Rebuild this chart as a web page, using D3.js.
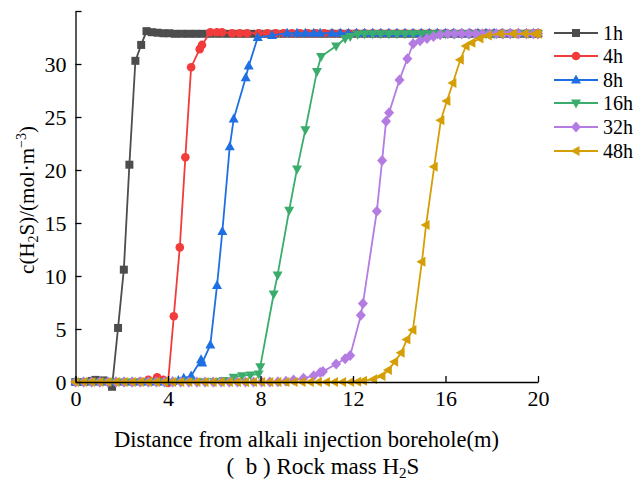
<!DOCTYPE html>
<html><head><meta charset="utf-8">
<script src="https://cdn.jsdelivr.net/npm/d3@7"></script>
<style>body{margin:0;background:#fff}svg{display:block;font-family:"Liberation Serif","Times New Roman",serif}</style>
</head><body><svg id="c" width="633" height="480"></svg>
<script>
const seriesNames = ["1h","4h","8h","16h","32h","48h"];
const seriesColors = ["#4d4d4d","#f23b3b","#1f6fe4","#3aad6c","#b47ce2","#d49e04"];
const seriesShapes = ["square","circle","triangleUp","triangleDown","diamond","triangleLeft"];

const x1h = [0,0.35,0.7,0.86,1.2,1.58,1.84,2.09,2.33,2.59,2.84,3.07,3.3,3.55,3.8,4.05,4.3,4.6,4.9,5.2,5.5,5.85,6.2,6.55,6.9,7.25,7.6,7.95,8.3,8.65,9.0,9.35,9.7,10.05,10.4,10.75,11.1,11.45,11.8,12.15,12.5,12.85,13.2,13.55,13.9,14.25,14.6,14.95,15.3,15.65,16.0,16.35,16.7,17.05,17.4,17.75,18.1,18.45,18.8,19.15,19.5,19.8,20];
const y1h = [0,0,0.1,0.2,0.15,-0.45,5.1,10.6,20.5,30.3,31.8,33.1,33.0,32.95,32.9,32.9,32.85,32.85,32.85,32.85,32.85,32.85,32.85,32.85,32.85,32.85,32.85,32.85,32.85,32.85,32.85,32.85,32.85,32.85,32.85,32.85,32.85,32.85,32.85,32.85,32.85,32.85,32.85,32.85,32.85,32.85,32.85,32.85,32.85,32.85,32.85,32.85,32.85,32.85,32.85,32.85,32.85,32.85,32.85,32.85,32.85,32.85,32.85];

const x4h = [0,0.35,0.7,1.05,1.4,1.75,2.1,2.45,2.8,3.15,3.53,3.8,4.0,4.25,4.51,4.75,5.0,5.37,5.47,5.83,6.12,6.34,6.77,7.1,7.42,7.92,8.3,8.65,9.0,9.35,9.7,10.05,10.4,10.75,11.1,11.45,11.8,12.15,12.5,12.85,13.2,13.55,13.9,14.25,14.6,14.95,15.3,15.65,16.0,16.35,16.7,17.05,17.4,17.75,18.1,18.45,18.8,19.15,19.5,19.8,20];
const y4h = [0,0,0,0,0,0,0,0,0.05,0.2,0.45,0.2,-0.1,6.2,12.7,21.2,29.7,31.4,31.8,33.0,33.0,33.0,32.9,32.9,32.9,32.9,32.9,32.9,32.9,32.9,32.9,32.9,32.9,32.9,32.9,32.9,32.9,32.9,32.9,32.9,32.9,32.9,32.9,32.9,32.9,32.9,32.9,32.9,32.9,32.9,32.9,32.9,32.9,32.9,32.9,32.9,32.9,32.9,32.9,32.9,32.9];

const x8h = [0,0.35,0.7,1.05,1.4,1.75,2.1,2.45,2.8,3.15,3.5,3.85,4.2,4.45,4.68,5.0,5.43,5.48,5.83,6.12,6.35,6.67,6.84,7.36,7.49,7.88,8.5,9.15,9.58,9.94,10.3,10.58,11.09,11.45,11.8,12.15,12.5,12.85,13.2,13.55,13.9,14.25,14.6,14.95,15.3,15.65,16.0,16.35,16.7,17.05,17.4,17.75,18.1,18.45,18.8,19.15,19.5,19.8,20];
const y8h = [0,0,0,0,0,0,0,0,0,0,0,0,0.05,0.15,0.35,0.57,2.1,1.8,3.5,9.1,14.2,22.2,24.8,28.7,29.8,32.5,32.7,32.9,32.9,32.9,32.9,32.9,32.9,32.9,32.9,32.9,32.9,32.9,32.9,32.9,32.9,32.9,32.9,32.9,32.9,32.9,32.9,32.9,32.9,32.9,32.9,32.9,32.9,32.9,32.9,32.9,32.9,32.9,32.9];

const x16h = [0,0.35,0.7,1.05,1.4,1.75,2.1,2.45,2.8,3.15,3.5,3.85,4.2,4.55,4.9,5.25,5.6,6.0,6.4,6.84,7.2,7.56,7.92,7.99,8.57,8.74,9.24,9.58,9.94,10.44,10.62,11.27,11.66,11.88,12.2,12.5,12.85,13.2,13.55,13.9,14.25,14.6,14.95,15.3,15.65,16.0,16.35,16.7,17.05,17.4,17.75,18.1,18.45,18.8,19.15,19.5,19.8,20];
const y16h = [0,0,0,0,0,0,0,0,0,0,0,0,0,0,0,0,0.02,0.05,0.15,0.45,0.6,0.66,0.75,1.45,8.3,10.1,16.2,20.1,23.8,29.3,30.7,31.7,32.4,32.6,32.8,32.85,32.85,32.85,32.85,32.85,32.85,32.85,32.85,32.85,32.85,32.85,32.85,32.85,32.85,32.85,32.85,32.85,32.85,32.85,32.85,32.85,32.85,32.85];

const x32h = [0,0.35,0.7,1.05,1.4,1.75,2.1,2.45,2.8,3.15,3.5,3.85,4.2,4.55,4.9,5.25,5.6,5.95,6.3,6.65,7.0,7.35,7.7,8.05,8.4,8.75,9.1,9.43,9.86,10.3,10.58,10.7,11.27,11.66,11.88,12.34,12.43,13.03,13.26,13.43,13.56,14.01,14.35,14.6,14.9,15.2,15.48,15.77,16.1,16.4,16.7,17.0,17.3,17.6,17.9,18.2,18.5,18.8,19.15,19.5,19.8,20];
const y32h = [0,0,0,0,0,0,0,0,0,0,0,0,0,0,0,0,0,0,0,0,0,0,0,0,0,0.02,0.08,0.2,0.35,0.6,0.9,0.98,1.7,2.2,2.5,6.3,7.4,16.1,20.9,24.6,25.4,28.5,30.5,31.9,32.2,32.4,32.6,32.75,32.85,32.85,32.85,32.85,32.85,32.85,32.85,32.85,32.85,32.85,32.85,32.85,32.85,32.85];

const x48h = [0,0.35,0.7,1.05,1.4,1.75,2.1,2.45,2.8,3.15,3.5,3.85,4.2,4.55,4.9,5.25,5.6,5.95,6.3,6.65,7.0,7.35,7.7,8.05,8.4,8.75,9.1,9.45,9.8,10.15,10.5,10.85,11.2,11.55,11.9,12.2,12.45,12.89,13.25,13.53,13.8,14.08,14.33,14.59,14.98,15.16,15.51,15.8,16.06,16.32,16.64,16.89,17.14,17.49,17.85,18.36,18.93,19.44,19.87,20];
const y48h = [0,0,0,0,0,0,0,0,0,0,0,0,0,0,0,0,0,0,0,0,0,0,0,0,0,0,0,0,0,0,0,0,0,0,0,0.02,0.12,0.25,0.57,1.13,1.9,2.76,4.0,4.9,11.35,14.8,20.3,24.7,26.5,28.2,30.4,31.7,32.0,32.4,32.7,32.85,32.85,32.85,32.85,32.85];

const seriesX = [x1h,x4h,x8h,x16h,x32h,x48h];
const seriesY = [y1h,y4h,y8h,y16h,y32h,y48h];

const xTicks = [0,4,8,12,16,20];
const yTicks = [0,5,10,15,20,25,30,35];
const yTickLabels = ["0","5","10","15","20","25","30",""];

const svg = d3.select("#c");
const L = 75.5, R = 538, T = 11, B = 382;
const x = d3.scaleLinear().domain([0,20]).range([L,R]);
const y = d3.scaleLinear().domain([0,35]).range([B,T]);

function markerPath(shape){
  const p = d3.path();
  if(shape==="square"){ const s=4; p.rect(-s,-s,2*s,2*s); }
  else if(shape==="circle"){ p.arc(0,0,4.3,0,2*Math.PI); }
  else if(shape==="triangleUp"){ p.moveTo(0,-5.5); p.lineTo(5,3.5); p.lineTo(-5,3.5); p.closePath(); }
  else if(shape==="triangleDown"){ p.moveTo(0,5.5); p.lineTo(5,-3.5); p.lineTo(-5,-3.5); p.closePath(); }
  else if(shape==="diamond"){ p.moveTo(0,-5.5); p.lineTo(5,0); p.lineTo(0,5.5); p.lineTo(-5,0); p.closePath(); }
  else if(shape==="triangleLeft"){ p.moveTo(-5.5,0); p.lineTo(3.5,-5); p.lineTo(3.5,5); p.closePath(); }
  return p.toString();
}

const line = d3.line().x(d=>x(d[0])).y(d=>y(d[1]));
seriesNames.forEach((name,i)=>{
  const pts = seriesX[i].map((v,j)=>[v,seriesY[i][j]]);
  const g = svg.append("g");
  g.append("path").attr("d",line(pts)).attr("fill","none")
   .attr("stroke",seriesColors[i]).attr("stroke-width",1.8);
  g.selectAll("path.m").data(pts).enter().append("path").attr("class","m")
   .attr("d",markerPath(seriesShapes[i]))
   .attr("transform",d=>`translate(${x(d[0])},${y(d[1])})`)
   .attr("fill",seriesColors[i]);
});

// axes
const ax = svg.append("g").attr("transform",`translate(0,${B})`)
  .call(d3.axisBottom(x).tickValues(xTicks).tickSizeInner(-6).tickSizeOuter(0).tickPadding(8));
const ay = svg.append("g").attr("transform",`translate(${L},0)`)
  .call(d3.axisLeft(y).tickValues(yTicks).tickFormat((d,i)=>yTickLabels[i]).tickSizeInner(-6).tickSizeOuter(0).tickPadding(9));
[ax,ay].forEach(a=>{
  a.selectAll("path.domain").attr("stroke","#000").attr("stroke-width",1.3);
  a.selectAll(".tick line").attr("stroke","#000").attr("stroke-width",1.3);
  a.selectAll(".tick text").attr("fill","#000").style("font-size","22px").style("font-family","'Liberation Serif',serif");
});
ax.selectAll(".tick text").attr("dy","0.71em");
ay.selectAll(".tick text").attr("dy","0.34em");

// axis titles
svg.append("text").attr("x",306.5).attr("y",447).attr("text-anchor","middle")
  .style("font-size","22.5px").text("Distance from alkali injection borehole(m)");
const cap = svg.append("text").attr("x",323).attr("y",474).attr("text-anchor","middle").style("font-size","23px");
cap.append("tspan").text("(\u2002b ) Rock mass H");
cap.append("tspan").attr("dy",4).style("font-size","15px").text("2");
cap.append("tspan").attr("dy",-4).text("S");

const yt = svg.append("text").attr("transform","translate(34,200) rotate(-90)").attr("text-anchor","middle").style("font-size","21px");
yt.append("tspan").text("c(H");
yt.append("tspan").attr("dy",4).style("font-size","14px").text("2");
yt.append("tspan").attr("dy",-4).text("S)/(mol·m");
yt.append("tspan").attr("dy",-8).style("font-size","14px").text("−3");
yt.append("tspan").attr("dy",8).text(")");

// legend
const legY = [33,56,80,103,127,151];
seriesNames.forEach((name,i)=>{
  const g = svg.append("g").attr("transform",`translate(0,${legY[i]})`);
  g.append("line").attr("x1",554).attr("x2",598).attr("stroke",seriesColors[i]).attr("stroke-width",1.8);
  g.append("path").attr("d",markerPath(seriesShapes[i])).attr("transform","translate(576,0)").attr("fill",seriesColors[i]);
  g.append("text").attr("x",603).attr("y",0).attr("dy","0.34em").style("font-size","20px").text(name);
});
</script></body></html>
